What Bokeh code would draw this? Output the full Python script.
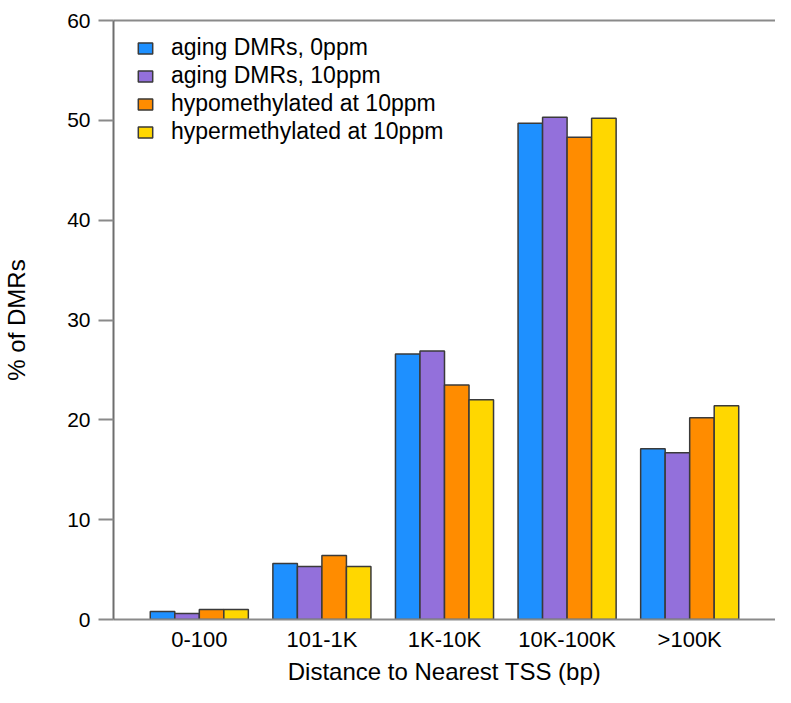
from bokeh.plotting import figure
from bokeh.models import (FactorRange, Range1d, ColumnDataSource, Legend, LegendItem,
                          LinearAxis, FixedTicker)
from bokeh.transform import dodge
from bokeh.embed import file_html
from bokeh.resources import INLINE

# ---- data ----
categories = ["0-100", "101-1K", "1K-10K", "10K-100K", ">100K"]
aging_0ppm = [0.8, 5.6, 26.6, 49.7, 17.1]
aging_10ppm = [0.6, 5.3, 26.9, 50.3, 16.7]
hypo_10ppm = [1.0, 6.4, 23.5, 48.3, 20.2]
hyper_10ppm = [1.0, 5.3, 22.0, 50.2, 21.4]
series_names = ["aging DMRs, 0ppm", "aging DMRs, 10ppm",
                "hypomethylated at 10ppm", "hypermethylated at 10ppm"]
y_ticks = [0, 10, 20, 30, 40, 50, 60]

colors = ["#1E90FF", "#9370DB", "#FF8C00", "#FFD700"]
offsets = [-0.3, -0.1, 0.1, 0.3]
cols = ["a0", "a10", "hypo", "hyper"]

src = ColumnDataSource(dict(cat=categories, a0=aging_0ppm, a10=aging_10ppm,
                            hypo=hypo_10ppm, hyper=hyper_10ppm))

FONT = "Liberation Sans"

p = figure(width=775, height=687, output_backend="svg", toolbar_location=None,
           x_range=FactorRange(*categories, range_padding=0.2, range_padding_units="absolute"),
           y_range=Range1d(0, 60),
           min_border_left=112, min_border_top=20, min_border_right=0, min_border_bottom=64)
p.outline_line_color = None
p.xgrid.visible = False
p.ygrid.visible = False

renderers = []
for c, col, off in zip(colors, cols, offsets):
    r = p.vbar(x=dodge("cat", off, range=p.x_range), top=col, width=0.2, source=src,
               fill_color=c, line_color="#3a3a3a", line_width=1.5)
    renderers.append(r)

axis_color = "#6e6e6e"

# y axis
yax = p.yaxis[0]
yax.ticker = FixedTicker(ticks=y_ticks)
yax.major_tick_out = 15
yax.major_tick_in = 0
yax.minor_tick_out = 0
yax.minor_tick_in = 0
yax.major_tick_line_color = "#8a8a8a"
yax.major_tick_line_width = 2
yax.axis_line_color = axis_color
yax.axis_line_width = 2
yax.major_label_standoff = 8
yax.major_label_text_font = FONT
yax.major_label_text_font_size = "21px"
yax.major_label_text_color = "black"
yax.axis_label = "% of DMRs"
yax.axis_label_text_font = FONT
yax.axis_label_text_font_size = "24px"
yax.axis_label_text_font_style = "normal"
yax.axis_label_text_color = "black"
yax.axis_label_standoff = 34

# x axis
xax = p.xaxis[0]
xax.major_tick_out = 0
xax.major_tick_in = 0
xax.minor_tick_out = 0
xax.axis_line_color = "#8a8a8a"
xax.axis_line_width = 2
xax.major_label_standoff = 7
xax.major_label_text_font = FONT
xax.major_label_text_font_size = "22px"
xax.major_label_text_color = "black"
xax.axis_label = "Distance to Nearest TSS (bp)"
xax.axis_label_text_font = FONT
xax.axis_label_text_font_size = "24px"
xax.axis_label_text_font_style = "normal"
xax.axis_label_text_color = "black"
xax.axis_label_standoff = 3

# top border line
top = LinearAxis(ticker=FixedTicker(ticks=[]), major_label_text_font_size="0px",
                 major_tick_out=0, major_tick_in=0, minor_tick_out=0, minor_tick_in=0,
                 axis_line_color="#8a8a8a", axis_line_width=2,
                 major_label_standoff=0)
p.add_layout(top, "above")

legend = Legend(items=[LegendItem(label=n, renderers=[r]) for n, r in zip(series_names, renderers)],
                location=(23, 474), padding=0, spacing=1, glyph_width=18, glyph_height=14,
                label_standoff=17, label_height=26, label_text_font=FONT,
                label_text_font_size="23px", label_text_color="black",
                border_line_alpha=0, background_fill_color="white", background_fill_alpha=1.0)
p.add_layout(legend)

open("out.html", "w").write(file_html(p, INLINE))
